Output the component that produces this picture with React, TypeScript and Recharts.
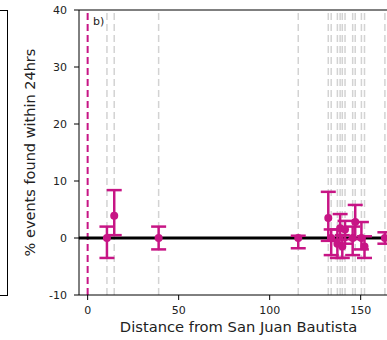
import React from "react";
import {
  ComposedChart,
  Scatter,
  ErrorBar,
  XAxis,
  YAxis,
  ReferenceLine,
} from "recharts";

// station distances (km from San Juan Bautista) and % of events found within 24hrs
const distances = [10.6, 14.6, 39.0, 115.7, 132.2, 133.8, 137.2, 138.7, 139.9, 141.4, 145.6, 147.0, 150.4, 152.1, 163.3];
const pctFound = [0, 3.9, 0, 0, 3.5, 0, -1.0, 1.7, -1.5, 1.5, 0, 2.8, 0, -1.5, 0];
const errLow = [3.5, 3.4, 2.0, 1.8, 4.0, 3.0, 2.5, 2.0, 2.0, 2.5, 3.0, 3.0, 2.0, 2.0, 1.0];
const errHigh = [2.0, 4.5, 2.0, 0.4, 4.6, 1.5, 2.5, 2.5, 2.0, 1.5, 2.0, 3.0, 2.8, 1.8, 1.0];

const xTicks = [0, 50, 100, 150];
const yTicks = [-10, 0, 10, 20, 30, 40];
const mainshock = 0;

const PINK = "#c71585";
const FONT = "DejaVu Sans, sans-serif";

const points = distances.map((d, i) => ({
  x: d,
  y: pctFound[i],
  err: [errLow[i], errHigh[i]],
}));

export default function App() {
  return (
    <div
      style={{
        position: "absolute",
        left: 0,
        top: 0,
        width: 387,
        height: 340,
        overflow: "hidden",
        background: "#fff",
        fontFamily: FONT,
      }}
    >
      {/* edge of the neighbouring panel */}
      <div
        style={{
          position: "absolute",
          left: -2,
          top: 10,
          width: 9,
          height: 284,
          borderTop: "1px solid #000",
          borderRight: "1px solid #000",
          borderBottom: "1px solid #000",
        }}
      />
      <ComposedChart
        width={420}
        height={340}
        margin={{ top: 10, right: 22, bottom: 0, left: 0 }}
        style={{ position: "absolute", left: 0, top: 0 }}
      >
        <XAxis
          type="number"
          dataKey="x"
          domain={[-4.75, 170.5]}
          ticks={xTicks}
          allowDataOverflow
          height={45}
          tickSize={5}
          tickMargin={6}
          axisLine={{ stroke: "#000", strokeWidth: 1 }}
          tickLine={{ stroke: "#000" }}
          tick={{ fill: "#222", fontSize: 11, fontFamily: FONT }}
        />
        <YAxis
          type="number"
          dataKey="y"
          domain={[-10, 40]}
          ticks={yTicks}
          allowDataOverflow
          width={79}
          tickSize={5}
          tickMargin={7}
          axisLine={{ stroke: "#000", strokeWidth: 1 }}
          tickLine={{ stroke: "#000" }}
          tick={{ fill: "#222", fontSize: 11, fontFamily: FONT }}
        />
        <ReferenceLine y={40} stroke="#000" strokeWidth={1} />
        {distances.map((d) => (
          <ReferenceLine
            key={d}
            x={d}
            stroke="#d3d3d3"
            strokeWidth={1.5}
            strokeDasharray="7 4"
          />
        ))}
        <ReferenceLine
          x={mainshock}
          stroke={PINK}
          strokeWidth={2}
          strokeDasharray="7 4"
        />
        <ReferenceLine y={0} stroke="#000" strokeWidth={3} />
        <Scatter
          data={points}
          isAnimationActive={false}
          fill={PINK}
          shape={(p: any) => <circle cx={p.cx} cy={p.cy} r={4} fill={PINK} />}
        >
          <ErrorBar
            dataKey="err"
            direction="y"
            width={7.5}
            stroke={PINK}
            strokeWidth={2.5}
          />
        </Scatter>
        <text x={93} y={25} fontSize={11} fill="#222" fontFamily={FONT}>
          b)
        </text>
        <text
          x={238.5}
          y={332}
          fontSize={14.7}
          fill="#222"
          textAnchor="middle"
          fontFamily={FONT}
        >
          Distance from San Juan Bautista
        </text>
        <text
          x={35}
          y={152.5}
          fontSize={14.5}
          fill="#222"
          textAnchor="middle"
          fontFamily={FONT}
          transform="rotate(-90 35 152.5)"
        >
          % events found within 24hrs
        </text>
      </ComposedChart>
    </div>
  );
}
